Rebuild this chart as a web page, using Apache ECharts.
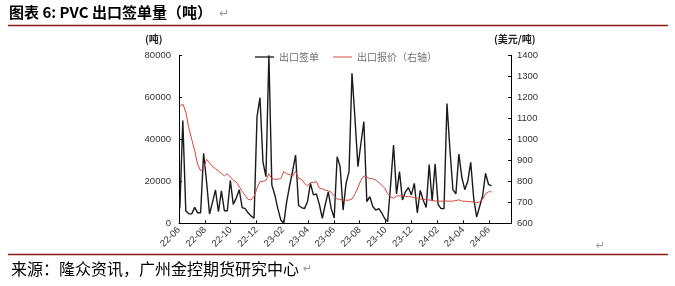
<!DOCTYPE html>
<html><head><meta charset="utf-8">
<script src="https://cdn.jsdelivr.net/npm/echarts@6/dist/echarts.min.js"></script>
<style>html,body{margin:0;padding:0;background:#fff}#c{width:675px;height:286px}</style>
</head><body><div id="c"></div>
<script>
// Weekly data, first week 2022-06-03
var firstWeek = '2022-06-03';
var axisStart = '2022-06-01';
var axisEnd = '2024-07-23';
var volume = [
 7000,49000,6000,4500,4500,7600,5000,5000,33300,19800,
 4400,10000,15900,5500,15400,6000,6000,20400,9000,12000,
 16000,7500,7000,5000,3500,2400,50800,59800,29300,22200,
 80000,18200,13500,7100,1600,0,10300,18000,25000,32500,
 8500,7500,7000,10300,19000,13500,14000,9000,2400,9000,
 15000,7000,2500,31700,27000,6300,19000,24600,71400,50000,
 27000,38000,48400,10300,12700,8000,6300,7000,5000,2300,
 800,18000,37300,14000,24600,11100,15000,17000,13500,19000,
 5000,15700,11000,7500,28000,10500,28300,9000,7000,7000,
 57000,35000,16000,14000,33000,22000,16000,20000,29000,11900,
 3000,8000,13000,23800,18500,17800
];
var price = [
 1158,1168,1130,1055,1000,945,880,850,862,905,
 888,870,860,850,838,826,836,820,806,796,
 775,752,732,714,711,728,767,798,800,804,
 836,812,810,810,812,846,836,832,825,848,
 814,810,790,778,794,795,798,768,764,758,
 755,748,730,716,714,710,710,710,716,740,
 770,805,825,820,813,812,806,795,782,768,
 740,726,720,730,731,730,728,727,726,722,
 719,716,714,712,711,709,706,706,705,706,
 706,705,706,708,712,706,705,704,703,700,
 698,702,715,740,750,750
];
var leftTicks = {min:0, max:80000, interval:20000};
var rightTicks = {min:600, max:1400, interval:100};
var seriesNames = ['出口签单','出口报价（右轴）'];

function fmt(t){var d=new Date(t);return d.toISOString().slice(0,10);}
function parse(s){var p=s.split('-');return Date.UTC(+p[0],+p[1]-1,+p[2]);}
var DAY=86400000;
var categories=[];
for(var t=parse(axisStart);t<=parse(axisEnd);t+=DAY){categories.push(fmt(t));}
var weekDates=[];
for(var i=0;i<volume.length;i++){weekDates.push(fmt(parse(firstWeek)+i*7*DAY));}
var volData=volume.map(function(v,i){return [weekDates[i],v];});
var priceData=price.map(function(v,i){return [weekDates[i],v];});

function isTick(idx,val){
  if(val.slice(8)!=='01')return false;
  var m=+val.slice(5,7);
  return m%2===0;
}
function plain(v){return String(v);}

var chart=echarts.init(document.getElementById('c'),null,{renderer:'canvas'});
var lab={fontFamily:'Liberation Sans, Arial, sans-serif',fontSize:9.5,color:'#333'};
chart.setOption({
  animation:false,
  grid:{left:179,right:164,top:55.3,bottom:62.7,containLabel:false},
  legend:{
    left:250,top:47,itemWidth:19,itemHeight:10,itemGap:14,
    data:[{name:seriesNames[0],icon:'path://M0,4.3 L20,4.3 L20,5.7 L0,5.7 Z'},
          {name:seriesNames[1],icon:'path://M0,4.5 L20,4.5 L20,5.5 L0,5.5 Z'}],
    textStyle:{fontSize:10,color:'#707070',fontFamily:'Noto Sans CJK SC'}
  },
  xAxis:{
    type:'category',data:categories,boundaryGap:false,
    axisLine:{lineStyle:{color:'#000',width:1}},
    axisTick:{inside:true,length:3,interval:isTick,lineStyle:{color:'#000'}},
    axisLabel:Object.assign({interval:isTick,rotate:45,margin:5,
      formatter:function(v){return v.slice(2,7);}},lab),
    splitLine:{show:false}
  },
  yAxis:[
    {type:'value',min:leftTicks.min,max:leftTicks.max,interval:leftTicks.interval,
     axisLine:{show:true,lineStyle:{color:'#000'}},
     axisTick:{show:true,inside:true,length:3,lineStyle:{color:'#000'}},
     axisLabel:Object.assign({margin:8,formatter:plain},lab),splitLine:{show:false}},
    {type:'value',min:rightTicks.min,max:rightTicks.max,interval:rightTicks.interval,
     axisLine:{show:true,lineStyle:{color:'#000'}},
     axisTick:{show:true,inside:true,length:3,lineStyle:{color:'#000'}},
     axisLabel:Object.assign({margin:6,formatter:plain},lab),splitLine:{show:false}}
  ],
  series:[
    {name:seriesNames[0],type:'line',data:volData,symbol:'none',yAxisIndex:0,
     lineStyle:{color:'#1a1a1a',width:1.4},itemStyle:{color:'#1a1a1a'},z:2},
    {name:seriesNames[1],type:'line',data:priceData,symbol:'none',yAxisIndex:1,
     lineStyle:{color:'#d2463c',width:1},itemStyle:{color:'#d2463c'},z:3}
  ],
  graphic:[
    {type:'text',left:9,top:5,style:{text:'图表 6: PVC 出口签单量（吨）',font:'bold 15px "Noto Sans CJK SC"',fill:'#000'}},
    {type:'text',left:219,top:8,style:{text:'↵',font:'12px "DejaVu Sans"',fill:'#999'}},
    {type:'line',shape:{x1:8,y1:25.5,x2:668,y2:25.5},style:{stroke:'#8b1a1a',lineWidth:1.5}},
    {type:'text',left:145,top:34,style:{text:'(吨)',font:'bold 10px "Noto Sans CJK SC"',fill:'#222'}},
    {type:'text',left:494,top:34,style:{text:'(美元/吨)',font:'bold 10px "Noto Sans CJK SC"',fill:'#222'}},
    {type:'text',left:596,top:241,style:{text:'↵',font:'11px "DejaVu Sans"',fill:'#999'}},
    {type:'line',shape:{x1:8,y1:254.5,x2:668,y2:254.5},style:{stroke:'#8b1a1a',lineWidth:1.5}},
    {type:'text',left:11,top:261,style:{text:'来源：隆众资讯，广州金控期货研究中心',font:'16px "Noto Sans CJK SC"',fill:'#000'}},
    {type:'text',left:303,top:264,style:{text:'↵',font:'11px "DejaVu Sans"',fill:'#999'}}
  ]
});
</script></body></html>
